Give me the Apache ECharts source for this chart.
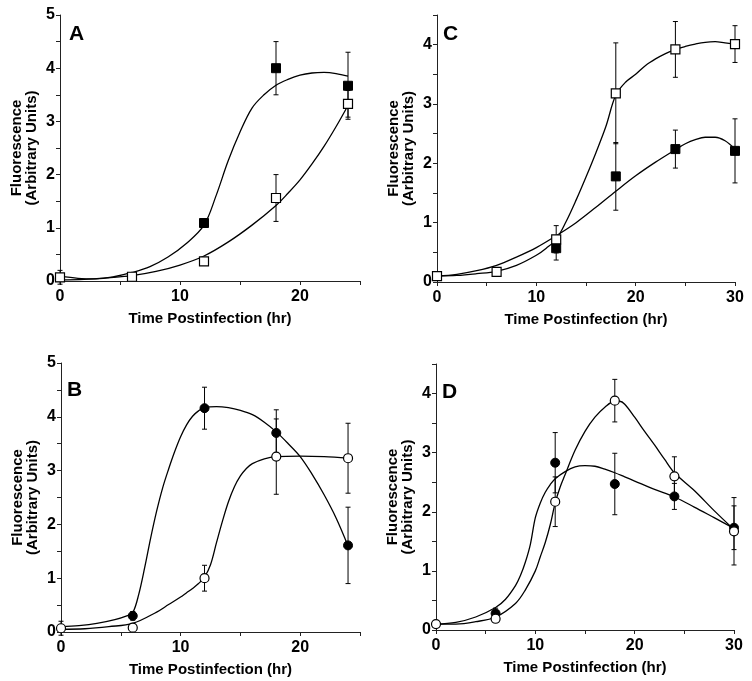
<!DOCTYPE html>
<html><head><meta charset="utf-8">
<script src="https://cdn.jsdelivr.net/npm/echarts@6/dist/echarts.min.js"></script>
<style>html,body{margin:0;padding:0;background:#fff}#c{width:752px;height:681px}</style>
</head><body><div id="c"></div>
<script>
// ---- labels ----
const panelLetters = ['A', 'C', 'B', 'D'];
const xAxisTitle = 'Time Postinfection (hr)';
const yAxisTitle = 'Fluorescence\n(Arbitrary Units)';
const xMaxes = [25, 30, 25, 30];
const yMaxes = [5, 4.5, 5, 4.5];

// ---- measured points: [hour, mean, error] ----
const aFilled = [[12, 1.09, 0], [18, 4.0, 0.5], [24, 3.67, 0.63]];
const aOpen = [[0, 0.07, 0.13], [6, 0.08, 0], [12, 0.37, 0], [18, 1.56, 0.44], [24, 3.33, 0.25]];
const cFilled = [[12, 0.57, 0.2], [18, 1.78, 0.57], [24, 2.24, 0.32], [30, 2.21, 0.54]];
const cOpen = [[0, 0.1, 0], [6, 0.17, 0], [12, 0.72, 0.23], [18, 3.18, 0.85], [24, 3.92, 0.47], [30, 4.01, 0.31]];
const bFilled = [[6, 0.3, 0.08], [12, 4.16, 0.39], [18, 3.7, 0.43], [24, 1.61, 0.71]];
const bOpen = [[0, 0.07, 0.13], [6, 0.08, 0], [12, 1.0, 0.24], [18, 3.26, 0.7], [24, 3.23, 0.65]];
const dFilled = [[6, 0.28, 0.09], [12, 2.83, 0.51], [18, 2.47, 0.52], [24, 2.26, 0.22], [30, 1.73, 0.37]];
const dOpen = [[0, 0.1, 0], [6, 0.19, 0], [12, 2.17, 0.42], [18, 3.88, 0.36], [24, 2.6, 0.33], [30, 1.67, 0.57]];

// ---- fitted curves: [hour, value] ----
const aFilledCurve = [[0, 0.09], [1.5, 0.05], [3, 0.04], [4.5, 0.08], [6, 0.16], [7.5, 0.27], [9, 0.45], [10.5, 0.7], [12, 1.05], [13, 1.6], [14, 2.25], [15, 2.8], [16, 3.25], [17, 3.5], [18, 3.68], [19, 3.79], [20, 3.87], [21, 3.91], [22, 3.92], [23, 3.9], [24, 3.85]];
const aOpenCurve = [[0, 0.02], [2, 0.03], [4, 0.06], [6, 0.1], [8, 0.18], [10, 0.3], [12, 0.47], [14, 0.73], [16, 1.05], [18, 1.42], [19, 1.65], [20, 1.9], [21, 2.2], [22, 2.53], [23, 2.9], [24, 3.3]];
const cFilledCurve = [[0, 0.1], [2, 0.13], [4, 0.19], [6, 0.28], [8, 0.42], [10, 0.58], [12, 0.78], [14, 1.0], [16, 1.26], [18, 1.53], [20, 1.79], [22, 2.02], [24, 2.23], [25, 2.33], [26, 2.4], [27, 2.44], [28, 2.44], [29, 2.38], [30, 2.24]];
const cOpenCurve = [[0, 0.1], [2, 0.11], [4, 0.14], [6, 0.18], [8, 0.28], [10, 0.45], [11, 0.57], [12, 0.72], [13, 1.02], [14, 1.38], [15, 1.77], [16, 2.18], [17, 2.62], [18, 3.15], [19, 3.37], [20, 3.5], [21, 3.65], [22, 3.76], [23, 3.85], [24, 3.92], [25, 3.97], [26, 4.01], [27, 4.04], [28, 4.05], [29, 4.03], [30, 4.01]];
const bFilledCurve = [[0, 0.1], [1.5, 0.12], [3, 0.16], [4.5, 0.23], [5.5, 0.3], [6, 0.36], [6.5, 0.7], [7, 1.2], [7.5, 1.75], [8, 2.25], [8.5, 2.68], [9, 3.03], [9.5, 3.35], [10, 3.63], [10.5, 3.85], [11, 4.01], [11.5, 4.11], [12, 4.17], [13, 4.19], [14, 4.17], [15, 4.12], [16, 4.04], [17, 3.9], [18, 3.72], [19, 3.5], [20, 3.26], [21, 2.93], [22, 2.55], [23, 2.12], [24, 1.6]];
const bOpenCurve = [[0, 0.05], [2, 0.06], [4, 0.1], [6, 0.16], [8, 0.37], [9, 0.51], [10, 0.65], [10.5, 0.73], [11, 0.81], [11.5, 0.9], [12, 1.02], [12.5, 1.25], [13, 1.66], [13.5, 2.06], [14, 2.42], [14.5, 2.7], [15, 2.9], [15.5, 3.04], [16, 3.13], [17, 3.22], [18, 3.26], [20, 3.27], [22, 3.26], [24, 3.23]];
const dFilledCurve = [[0, 0.1], [2, 0.13], [4, 0.22], [6, 0.38], [7, 0.52], [8, 0.75], [8.5, 0.92], [9, 1.15], [9.5, 1.45], [10, 1.9], [10.5, 2.15], [11, 2.33], [11.5, 2.46], [12, 2.56], [13, 2.68], [14, 2.76], [15, 2.78], [16, 2.77], [17, 2.72], [18, 2.66], [19, 2.59], [20, 2.52], [22, 2.38], [24, 2.25], [26, 2.08], [28, 1.9], [30, 1.72]];
const dOpenCurve = [[0, 0.1], [2, 0.1], [4, 0.14], [6, 0.22], [8, 0.45], [9, 0.68], [10, 1.0], [10.5, 1.24], [11, 1.48], [11.5, 1.78], [12, 2.15], [12.5, 2.42], [13, 2.63], [14, 3.04], [15, 3.36], [16, 3.6], [17, 3.77], [18, 3.87], [18.5, 3.87], [19, 3.82], [20, 3.6], [21, 3.36], [22, 3.13], [23, 2.89], [24, 2.66], [26, 2.36], [28, 2.02], [30, 1.7]];

// ---- layout ----
const FONT = '"Liberation Sans", Arial, Helvetica, sans-serif';
const grids = [
  { left: 60, top: 15, width: 300, height: 266 },
  { left: 437, top: 15, width: 298, height: 267 },
  { left: 61, top: 363, width: 299, height: 269 },
  { left: 436, top: 364, width: 298, height: 266 }
];
const letterPos = [[69, 24], [443, 24], [67, 380], [442, 382]];
const panelSeries = [
  { filled: aFilled, open: aOpen, fc: aFilledCurve, oc: aOpenCurve, sym: 'rect' },
  { filled: cFilled, open: cOpen, fc: cFilledCurve, oc: cOpenCurve, sym: 'rect' },
  { filled: bFilled, open: bOpen, fc: bFilledCurve, oc: bOpenCurve, sym: 'circle' },
  { filled: dFilled, open: dOpen, fc: dFilledCurve, oc: dOpenCurve, sym: 'circle' }
];

const axisLine = { show: true, lineStyle: { color: '#222', width: 1 } };
const chart = echarts.init(document.getElementById('c'), null, { renderer: 'canvas' });

const xAxes = [], yAxes = [], series = [], titles = [];
grids.forEach((g, i) => {
  xAxes.push({
    gridIndex: i, type: 'value', min: 0, max: xMaxes[i], interval: 5,
    axisLine, splitLine: { show: false },
    axisTick: { show: true, length: 4, lineStyle: { color: '#222' } },
    axisLabel: { margin: 8, color: '#000', fontFamily: FONT, fontWeight: 'bold', fontSize: 16,
      formatter: v => (v % 10 === 0 ? String(v) : '') },
    name: xAxisTitle, nameLocation: 'middle', nameGap: 30,
    nameTextStyle: { color: '#000', fontFamily: FONT, fontWeight: 'bold', fontSize: 15 }
  });
  yAxes.push({
    gridIndex: i, type: 'value', min: 0, max: yMaxes[i], interval: 0.5,
    axisLine, splitLine: { show: false },
    axisTick: { show: true, length: 4, lineStyle: { color: '#222' } },
    axisLabel: { margin: 5, color: '#000', fontFamily: FONT, fontWeight: 'bold', fontSize: 16,
      formatter: v => (Number.isInteger(v) ? String(v) : '') },
    name: yAxisTitle, nameLocation: 'middle', nameGap: 21, nameRotate: 90,
    nameTextStyle: { color: '#000', fontFamily: FONT, fontWeight: 'bold', fontSize: 15, lineHeight: 15 }
  });
  titles.push({
    text: panelLetters[i], left: letterPos[i][0], top: letterPos[i][1], padding: 0,
    textStyle: { color: '#000', fontFamily: FONT, fontWeight: 'bold', fontSize: 21 }
  });
  const p = panelSeries[i];
  [p.fc, p.oc].forEach(curve => {
    series.push({
      type: 'line', xAxisIndex: i, yAxisIndex: i, data: curve, smooth: 0.35,
      symbol: 'none', silent: true, z: 1,
      lineStyle: { color: '#000', width: 1.3 }
    });
  });
  [p.filled, p.open].forEach(pts => {
    series.push({
      type: 'custom', xAxisIndex: i, yAxisIndex: i, coordinateSystem: 'cartesian2d', z: 2,
      data: pts,
      renderItem: (params, api) => {
        const x = api.value(0), y = api.value(1), e = api.value(2);
        if (!e) return null;
        const lo = api.coord([x, y - e]), hi = api.coord([x, y + e]);
        const cw = 2.5, st = { stroke: '#000', lineWidth: 1 };
        return { type: 'group', children: [
          { type: 'line', shape: { x1: lo[0], y1: lo[1], x2: hi[0], y2: hi[1] }, style: st },
          { type: 'line', shape: { x1: lo[0] - cw, y1: lo[1], x2: lo[0] + cw, y2: lo[1] }, style: st },
          { type: 'line', shape: { x1: hi[0] - cw, y1: hi[1], x2: hi[0] + cw, y2: hi[1] }, style: st }
        ] };
      },
      encode: { x: 0, y: 1 }
    });
  });
  series.push({
    type: 'scatter', xAxisIndex: i, yAxisIndex: i, data: p.filled.map(d => [d[0], d[1]]),
    symbol: p.sym, symbolSize: 9, z: 3,
    itemStyle: { color: '#000', borderColor: '#000', borderWidth: 1, opacity: 1 }
  });
  series.push({
    type: 'scatter', xAxisIndex: i, yAxisIndex: i, data: p.open.map(d => [d[0], d[1]]),
    symbol: p.sym, symbolSize: 9, z: 4,
    itemStyle: { color: '#fff', borderColor: '#000', borderWidth: 1.2, opacity: 1 }
  });
});

chart.setOption({
  animation: false,
  backgroundColor: '#fff',
  title: titles,
  grid: grids.map(g => Object.assign({ containLabel: false }, g)),
  xAxis: xAxes,
  yAxis: yAxes,
  series
});
</script>
</body></html>
